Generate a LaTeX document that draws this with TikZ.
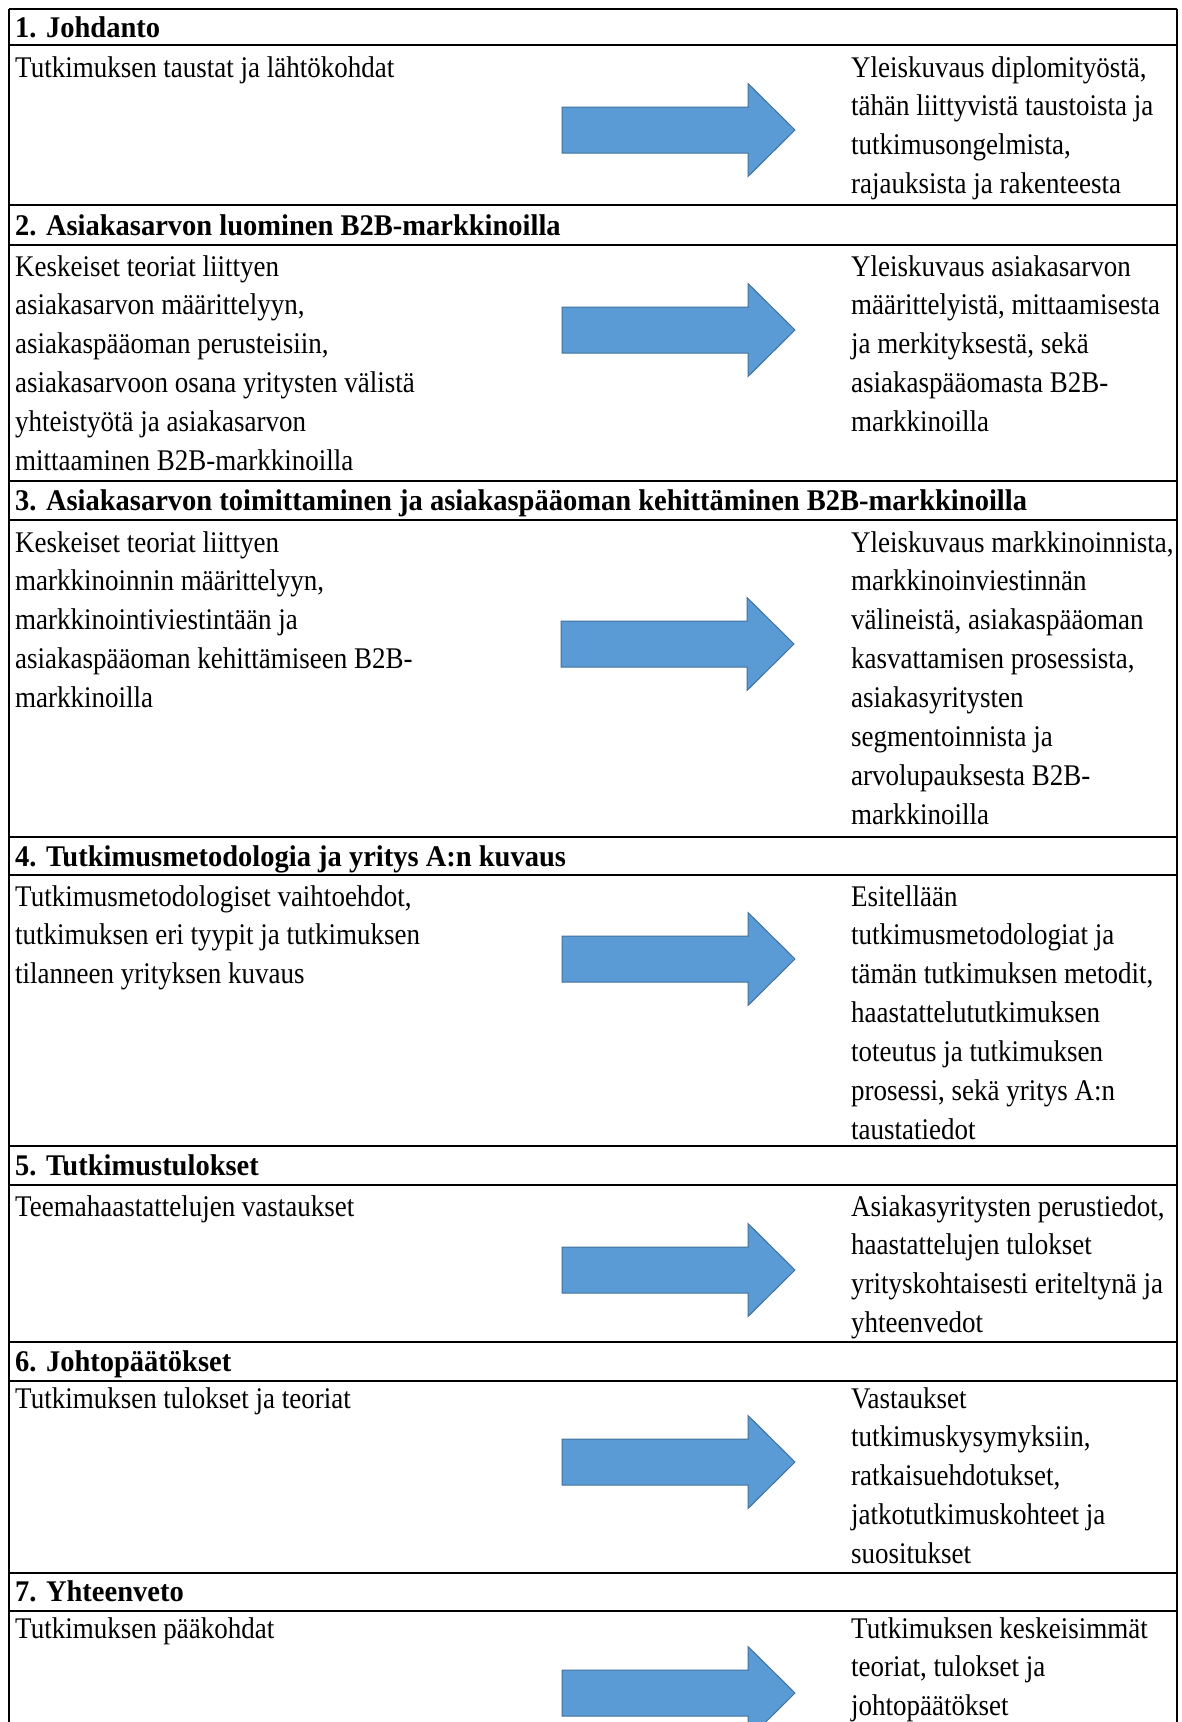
\documentclass[tikz,border=0pt]{standalone}
\usepackage{fontspec}
\setmainfont{Liberation Serif}[FakeStretch=0.90, BoldFeatures={FakeStretch=0.95}]
\definecolor{arrowfill}{HTML}{5B9BD5}
\definecolor{arrowline}{HTML}{41719C}
\tikzset{
  celltxt/.style={anchor=base west, inner sep=0pt, font=\fontsize{30}{38.9}\selectfont},
  headtxt/.style={celltxt, font=\fontsize{30}{38.9}\selectfont\bfseries},
  gridline/.style={line width=2.4pt, black},
  blockarrow/.style={fill=arrowfill, draw=arrowline, line width=1pt, line join=miter},
}
% lines of a cell, one node per line: name, x, baseline of first line, list of lines
\newcommand\celllines[4]{%
  \foreach \linetext [count=\k] in {#4}{%
    \node[celltxt] (#1-\k) at (#2, {#3+(\k-1)*38.9}) {\linetext};
  }%
}
% a block arrow pointing right, its tail centre at the named coordinate
\newcommand\blockarrowat[1]{%
  \draw[blockarrow] (#1) ++(0,-23) -- ++(186,0) -- ++(0,-23.5) -- ++(47,46.5)
    -- ++(-47,46.5) -- ++(0,-23.5) -- ++(-186,0) -- cycle;
}
\begin{document}
\begin{tikzpicture}[x=1pt, y=-1pt]
\useasboundingbox (0,0) rectangle (1182,1722);
\fill[white] (0,0) rectangle (1182,1722);

% horizontal rules between header and body rows
\foreach \yy in {9,45,205,245,481,520,837,875,1146,1185,1342,1381,1573,1611}{
  \draw[gridline] (9,\yy) -- (1177,\yy);
}
% outer vertical rules
\draw[gridline] (9,9) -- (9,1722);
\draw[gridline] (1177,9) -- (1177,1722);

% section headers
\node[headtxt] (h1) at (15,37) {1. Johdanto};
\node[headtxt] (h2) at (15,235) {2. Asiakasarvon luominen B2B-markkinoilla};
\node[headtxt] (h3) at (15,510) {3. Asiakasarvon toimittaminen ja asiakaspääoman kehittäminen B2B-markkinoilla};
\node[headtxt] (h4) at (15,866) {4. Tutkimusmetodologia ja yritys A:n kuvaus};
\node[headtxt] (h5) at (15,1175) {5. Tutkimustulokset};
\node[headtxt] (h6) at (15,1371) {6. Johtopäätökset};
\node[headtxt] (h7) at (15,1601) {7. Yhteenveto};

% section 1
\celllines{s1l}{15}{77}{Tutkimuksen taustat ja lähtökohdat}
\celllines{s1r}{851}{77}{{Yleiskuvaus diplomityöstä,},tähän liittyvistä taustoista ja,{tutkimusongelmista,},rajauksista ja rakenteesta}
% section 2
\celllines{s2l}{15}{276}{Keskeiset teoriat liittyen,{asiakasarvon määrittelyyn,},{asiakaspääoman perusteisiin,},asiakasarvoon osana yritysten välistä,yhteistyötä ja asiakasarvon,mittaaminen B2B-markkinoilla}
\celllines{s2r}{851}{276}{Yleiskuvaus asiakasarvon,{määrittelyistä, mittaamisesta},{ja merkityksestä, sekä},asiakaspääomasta B2B-,markkinoilla}
% section 3
\celllines{s3l}{15}{552}{Keskeiset teoriat liittyen,{markkinoinnin määrittelyyn,},markkinointiviestintään ja,asiakaspääoman kehittämiseen B2B-,markkinoilla}
\celllines{s3r}{851}{552}{{Yleiskuvaus markkinoinnista,},markkinoinviestinnän,{välineistä, asiakaspääoman},{kasvattamisen prosessista,},asiakasyritysten,segmentoinnista ja,arvolupauksesta B2B-,markkinoilla}
% section 4
\celllines{s4l}{15}{906}{{Tutkimusmetodologiset vaihtoehdot,},tutkimuksen eri tyypit ja tutkimuksen,tilanneen yrityksen kuvaus}
\celllines{s4r}{851}{906}{Esitellään,tutkimusmetodologiat ja,{tämän tutkimuksen metodit,},haastattelututkimuksen,toteutus ja tutkimuksen,{prosessi, sekä yritys A:n},taustatiedot}
% section 5
\celllines{s5l}{15}{1216}{Teemahaastattelujen vastaukset}
\celllines{s5r}{851}{1216}{{Asiakasyritysten perustiedot,},haastattelujen tulokset,yrityskohtaisesti eriteltynä ja,yhteenvedot}
% section 6
\celllines{s6l}{15}{1408}{Tutkimuksen tulokset ja teoriat}
\celllines{s6r}{851}{1408}{Vastaukset,{tutkimuskysymyksiin,},{ratkaisuehdotukset,},jatkotutkimuskohteet ja,suositukset}
% section 7
\celllines{s7l}{15}{1638}{Tutkimuksen pääkohdat}
\celllines{s7r}{851}{1638}{Tutkimuksen keskeisimmät,{teoriat, tulokset ja},johtopäätökset}

% arrows from the left column to the right column
\coordinate (a1) at (562,130);
\coordinate (a2) at (562,330);
\coordinate (a3) at (561,644);
\coordinate (a4) at (562,959);
\coordinate (a5) at (562,1270);
\coordinate (a6) at (562,1462);
\coordinate (a7) at (562,1693);
\foreach \a in {a1,a2,a3,a4,a5,a6,a7}{\blockarrowat{\a}}
\end{tikzpicture}
\end{document}
